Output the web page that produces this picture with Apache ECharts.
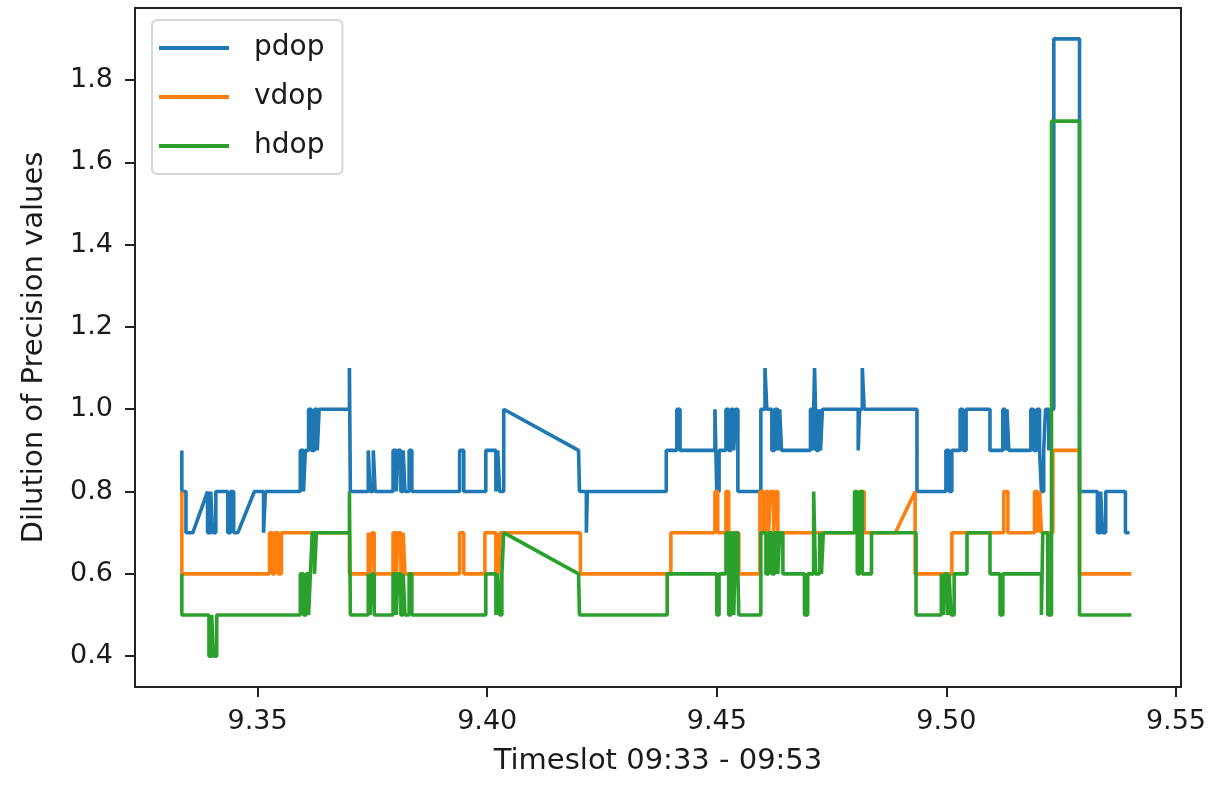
<!DOCTYPE html>
<html>
<head>
<meta charset="utf-8">
<script src="https://cdn.jsdelivr.net/npm/echarts@6/dist/echarts.min.js"></script>
<style>
  html, body { margin: 0; padding: 0; background: #fff; }
  #contain { width: 1209px; height: 786px; }
</style>
</head>
<body>
<div id="contain"></div>
<script>
// dilution of precision (x = timeslot value, y = dop)
const seriesNames = ['pdop', 'vdop', 'hdop'];
const xTicks = [9.35, 9.40, 9.45, 9.50, 9.55];
const yTicks = [0.4, 0.6, 0.8, 1.0, 1.2, 1.4, 1.6, 1.8];

const pdopX = [
  9.3335, 9.3335, 9.3344, 9.3344, 9.3359, 9.3391, 9.3391, 9.3398, 9.3398, 9.3402, 9.3402, 9.3409, 9.3409,
  9.3435, 9.3435, 9.3441, 9.3441, 9.3448, 9.3448, 9.3457, 9.3493, 9.3513, 9.3513, 9.3517, 9.3517,
  9.3593, 9.3593, 9.3600, 9.3600, 9.3604, 9.3604, 9.3611, 9.3611, 9.3617, 9.3617, 9.3624, 9.3624,
  9.3630, 9.3630, 9.3634, 9.3634, 9.3700, 9.3700, 9.3702, 9.3702,
  9.3741, 9.3741, 9.3745, 9.3745, 9.3752, 9.3752, 9.3756, 9.3756,
  9.3795, 9.3795, 9.3802, 9.3802, 9.3806, 9.3806, 9.3812, 9.3812, 9.3817, 9.3817, 9.3821, 9.3821,
  9.3830, 9.3830, 9.3836, 9.3836, 9.3940, 9.3940, 9.3949, 9.3949,
  9.3997, 9.3997, 9.4019, 9.4019, 9.4023, 9.4023, 9.4027, 9.4027, 9.4036, 9.4036,
  9.4199, 9.4201, 9.4201, 9.4216, 9.4216, 9.4218, 9.4218,
  9.4390, 9.4390, 9.4413, 9.4413, 9.4420, 9.4420,
  9.4496, 9.4496, 9.4500, 9.4500, 9.4505, 9.4505,
  9.4520, 9.4520, 9.4526, 9.4526, 9.4531, 9.4531, 9.4537, 9.4537, 9.4541, 9.4541, 9.4546, 9.4546,
  9.4596, 9.4596, 9.4605, 9.4605, 9.4609, 9.4609,
  9.4620, 9.4620, 9.4626, 9.4626, 9.4633, 9.4633, 9.4637, 9.4637, 9.4641, 9.4641,
  9.4704, 9.4704, 9.4709, 9.4709, 9.4713, 9.4713, 9.4717, 9.4717, 9.4722, 9.4722, 9.4726, 9.4726, 9.4730, 9.4730,
  9.4808, 9.4808, 9.4811, 9.4811, 9.4817, 9.4817, 9.4821, 9.4821,
  9.4936, 9.4936, 9.4999, 9.4999, 9.5006, 9.5006, 9.5012, 9.5012,
  9.5030, 9.5030, 9.5036, 9.5036, 9.5043, 9.5043, 9.5095, 9.5095,
  9.5123, 9.5123, 9.5128, 9.5128, 9.5132, 9.5132, 9.5136, 9.5136,
  9.5184, 9.5184, 9.5190, 9.5190, 9.5197, 9.5197, 9.5203, 9.5203, 9.5207, 9.5207, 9.5212, 9.5212,
  9.5216, 9.5216, 9.5223, 9.5223, 9.5227, 9.5227, 9.5234, 9.5234, 9.5290, 9.5290,
  9.5329, 9.5329, 9.5336, 9.5336, 9.5340, 9.5340, 9.5347, 9.5347, 9.5390, 9.5390, 9.5399
];
const pdopY = [
  0.9, 0.8, 0.8, 0.7, 0.7, 0.8, 0.7, 0.7, 0.8, 0.8, 0.7, 0.7, 0.8,
  0.8, 0.7, 0.7, 0.8, 0.8, 0.7, 0.7, 0.8, 0.8, 0.7, 0.7, 0.8,
  0.8, 0.9, 0.9, 0.8, 0.8, 0.9, 0.9, 1.0, 1.0, 0.9, 0.9, 1.0,
  1.0, 0.9, 0.9, 1.0, 1.0, 1.1, 1.1, 0.8,
  0.8, 0.9, 0.9, 0.8, 0.8, 0.9, 0.9, 0.8,
  0.8, 0.9, 0.9, 0.8, 0.8, 0.9, 0.9, 0.8, 0.8, 0.9, 0.9, 0.8,
  0.8, 0.9, 0.9, 0.8, 0.8, 0.9, 0.9, 0.8,
  0.8, 0.9, 0.9, 0.8, 0.8, 0.9, 0.9, 0.8, 0.8, 1.0,
  0.9, 0.9, 0.8, 0.8, 0.7, 0.7, 0.8,
  0.8, 0.9, 0.9, 1.0, 1.0, 0.9,
  0.9, 1.0, 1.0, 0.8, 0.8, 0.9,
  0.9, 1.0, 1.0, 0.9, 0.9, 1.0, 1.0, 0.9, 0.9, 1.0, 1.0, 0.8,
  0.8, 1.0, 1.0, 1.1, 1.1, 1.0,
  1.0, 0.9, 0.9, 1.0, 1.0, 0.9, 0.9, 1.0, 1.0, 0.9,
  0.9, 1.0, 1.0, 0.9, 0.9, 1.1, 1.1, 0.9, 0.9, 1.0, 1.0, 0.9, 0.9, 1.0,
  1.0, 0.9, 0.9, 1.0, 1.0, 1.1, 1.1, 1.0,
  1.0, 0.8, 0.8, 0.9, 0.9, 0.8, 0.8, 0.9,
  0.9, 1.0, 1.0, 0.9, 0.9, 1.0, 1.0, 0.9,
  0.9, 1.0, 1.0, 0.9, 0.9, 1.0, 1.0, 0.9,
  0.9, 1.0, 1.0, 0.9, 0.9, 1.0, 1.0, 0.9, 0.9, 0.8, 0.8, 0.9,
  0.9, 1.0, 1.0, 0.9, 0.9, 1.0, 1.0, 1.9, 1.9, 0.8,
  0.8, 0.7, 0.7, 0.8, 0.8, 0.7, 0.7, 0.8, 0.8, 0.7, 0.7
];

const vdopX = [
  9.3335, 9.3335, 9.3526, 9.3526, 9.3532, 9.3532, 9.3537, 9.3537, 9.3545, 9.3545, 9.3552, 9.3552,
  9.3700, 9.3700, 9.3741, 9.3741, 9.3745, 9.3745, 9.3749, 9.3749, 9.3754, 9.3754,
  9.3795, 9.3795, 9.3802, 9.3802, 9.3806, 9.3806, 9.3812, 9.3812, 9.3817, 9.3817, 9.3821, 9.3821,
  9.3940, 9.3940, 9.3949, 9.3949, 9.3995, 9.3995, 9.4019, 9.4019, 9.4023, 9.4023, 9.4025, 9.4025, 9.4029, 9.4029,
  9.4203, 9.4203, 9.4400, 9.4400, 9.4496, 9.4496, 9.4502, 9.4502, 9.4520, 9.4520, 9.4526, 9.4526, 9.4548, 9.4548,
  9.4594, 9.4594, 9.4602, 9.4602, 9.4607, 9.4607, 9.4613, 9.4613, 9.4617, 9.4617, 9.4624, 9.4624, 9.4628, 9.4628, 9.4633, 9.4633,
  9.4815, 9.4815, 9.4821, 9.4821, 9.4889, 9.4932, 9.4932, 9.5012, 9.5012,
  9.5125, 9.5125, 9.5134, 9.5134, 9.5192, 9.5192, 9.5199, 9.5199, 9.5203, 9.5203, 9.5207, 9.5207,
  9.5232, 9.5232, 9.5290, 9.5290, 9.5403
];
const vdopY = [
  0.8, 0.6, 0.6, 0.7, 0.7, 0.6, 0.6, 0.7, 0.7, 0.6, 0.6, 0.7,
  0.7, 0.6, 0.6, 0.7, 0.7, 0.6, 0.6, 0.7, 0.7, 0.6,
  0.6, 0.7, 0.7, 0.6, 0.6, 0.7, 0.7, 0.6, 0.6, 0.7, 0.7, 0.6,
  0.6, 0.7, 0.7, 0.6, 0.6, 0.7, 0.7, 0.6, 0.6, 0.7, 0.7, 0.6, 0.6, 0.7,
  0.7, 0.6, 0.6, 0.7, 0.7, 0.8, 0.8, 0.7, 0.7, 0.8, 0.8, 0.7, 0.7, 0.6,
  0.6, 0.8, 0.8, 0.7, 0.7, 0.8, 0.8, 0.7, 0.7, 0.8, 0.8, 0.7, 0.7, 0.8, 0.8, 0.7,
  0.7, 0.8, 0.8, 0.7, 0.7, 0.8, 0.6, 0.6, 0.7,
  0.7, 0.8, 0.8, 0.7, 0.7, 0.8, 0.8, 0.7, 0.7, 0.8, 0.8, 0.7,
  0.7, 0.9, 0.9, 0.6, 0.6
];

const hdopX = [
  9.3335, 9.3335, 9.3394, 9.3394, 9.3400, 9.3400, 9.3404, 9.3404, 9.3411, 9.3411,
  9.3593, 9.3593, 9.3600, 9.3600, 9.3606, 9.3606, 9.3611, 9.3611, 9.3615, 9.3615,
  9.3619, 9.3619, 9.3624, 9.3624, 9.3628, 9.3628, 9.3700, 9.3700, 9.3702, 9.3702,
  9.3741, 9.3741, 9.3745, 9.3745, 9.3749, 9.3749, 9.3754, 9.3754,
  9.3795, 9.3795, 9.3802, 9.3802, 9.3806, 9.3806, 9.3812, 9.3812, 9.3817, 9.3817, 9.3821, 9.3821,
  9.3830, 9.3830, 9.3836, 9.3836,
  9.3997, 9.3997, 9.4019, 9.4019, 9.4023, 9.4023, 9.4027, 9.4027, 9.4032, 9.4032, 9.4036, 9.4036,
  9.4199, 9.4201, 9.4201, 9.4392, 9.4392, 9.4500, 9.4500, 9.4505, 9.4505,
  9.4520, 9.4520, 9.4526, 9.4526, 9.4531, 9.4531, 9.4537, 9.4537, 9.4541, 9.4541, 9.4546, 9.4546, 9.4548, 9.4548,
  9.4596, 9.4596, 9.4607, 9.4607, 9.4613, 9.4613, 9.4620, 9.4620, 9.4626, 9.4626, 9.4633, 9.4633, 9.4637, 9.4637, 9.4644, 9.4644,
  9.4691, 9.4691, 9.4698, 9.4698,
  9.4711, 9.4711, 9.4715, 9.4715, 9.4724, 9.4724, 9.4728, 9.4728, 9.4732, 9.4732,
  9.4800, 9.4800, 9.4806, 9.4806, 9.4811, 9.4811, 9.4817, 9.4817, 9.4837, 9.4837,
  9.4934, 9.4934,
  9.4989, 9.4989, 9.4993, 9.4993, 9.4997, 9.4997, 9.5002, 9.5002, 9.5006, 9.5006, 9.5010, 9.5010, 9.5017, 9.5017,
  9.5045, 9.5045, 9.5095, 9.5095, 9.5117, 9.5117, 9.5123, 9.5123,
  9.5207, 9.5207, 9.5210, 9.5210, 9.5221, 9.5221, 9.5229, 9.5229, 9.5290, 9.5290, 9.5403
];
const hdopY = [
  0.6, 0.5, 0.5, 0.4, 0.4, 0.5, 0.5, 0.4, 0.4, 0.5,
  0.5, 0.6, 0.6, 0.5, 0.5, 0.6, 0.6, 0.5, 0.5, 0.6,
  0.6, 0.7, 0.7, 0.6, 0.6, 0.7, 0.7, 0.8, 0.8, 0.5,
  0.5, 0.6, 0.6, 0.5, 0.5, 0.6, 0.6, 0.5,
  0.5, 0.6, 0.6, 0.5, 0.5, 0.6, 0.6, 0.5, 0.5, 0.6, 0.6, 0.5,
  0.5, 0.6, 0.6, 0.5,
  0.5, 0.6, 0.6, 0.5, 0.5, 0.6, 0.6, 0.5, 0.5, 0.6, 0.6, 0.7,
  0.6, 0.6, 0.5, 0.5, 0.6, 0.6, 0.5, 0.5, 0.6,
  0.6, 0.7, 0.7, 0.5, 0.5, 0.7, 0.7, 0.5, 0.5, 0.7, 0.7, 0.6, 0.6, 0.5,
  0.5, 0.7, 0.7, 0.6, 0.6, 0.7, 0.7, 0.6, 0.6, 0.7, 0.7, 0.6, 0.6, 0.7, 0.7, 0.6,
  0.6, 0.5, 0.5, 0.6,
  0.6, 0.8, 0.8, 0.6, 0.6, 0.7, 0.7, 0.6, 0.6, 0.7,
  0.7, 0.8, 0.8, 0.6, 0.6, 0.8, 0.8, 0.6, 0.6, 0.7,
  0.7, 0.5,
  0.5, 0.6, 0.6, 0.5, 0.5, 0.6, 0.6, 0.5, 0.5, 0.6, 0.6, 0.5, 0.5, 0.6,
  0.6, 0.7, 0.7, 0.6, 0.6, 0.5, 0.5, 0.6,
  0.6, 0.5, 0.5, 0.7, 0.7, 0.5, 0.5, 1.7, 1.7, 0.5, 0.5
];

const colors = ['#1f77b4', '#ff7f0e', '#2ca02c'];
const pair = (xs, ys) => xs.map((x, i) => [x, ys[i]]);
const seriesData = [pair(pdopX, pdopY), pair(vdopX, vdopY), pair(hdopX, hdopY)];

const font = 'DejaVu Sans';
const ink = '#1a1a1a';

const chart = echarts.init(document.getElementById('contain'), null, { renderer: 'canvas' });

const option = {
  animation: false,
  backgroundColor: '#ffffff',
  color: colors,
  grid: {
    left: 135, right: 24, top: 8, bottom: 99,
    show: true, borderColor: '#222', borderWidth: 2, backgroundColor: 'transparent'
  },
  legend: {
    data: seriesNames,
    orient: 'vertical',
    left: 152, top: 20,
    icon: 'rect',
    itemWidth: 70, itemHeight: 4,
    itemGap: 21,
    padding: [14, 18, 14, 7],
    backgroundColor: '#fff',
    borderColor: '#d6d6d6', borderWidth: 2, borderRadius: 5,
    textStyle: { fontFamily: font, fontSize: 28, color: ink, padding: [0, 0, 0, 20] }
  },
  xAxis: {
    type: 'value',
    min: 9.3233, max: 9.5511,
    name: 'Timeslot 09:33 - 09:53',
    nameLocation: 'middle', nameGap: 60,
    nameTextStyle: { fontFamily: font, fontSize: 29, color: ink },
    axisLine: { show: true, lineStyle: { color: '#222', width: 2 } },
    axisTick: { show: true, length: 10, customValues: xTicks, lineStyle: { color: '#222', width: 2 } },
    axisLabel: {
      customValues: xTicks, margin: 21,
      fontFamily: font, fontSize: 27, color: ink,
      formatter: v => v.toFixed(2)
    },
    splitLine: { show: false }
  },
  yAxis: {
    type: 'value',
    min: 0.325, max: 1.975,
    name: 'Dilution of Precision values',
    nameLocation: 'middle', nameGap: 86,
    nameTextStyle: { fontFamily: font, fontSize: 29, color: ink },
    axisLine: { show: true, lineStyle: { color: '#222', width: 2 } },
    axisTick: { show: true, length: 10, customValues: yTicks, lineStyle: { color: '#222', width: 2 } },
    axisLabel: {
      customValues: yTicks, margin: 22,
      fontFamily: font, fontSize: 27, color: ink,
      formatter: v => v.toFixed(1)
    },
    splitLine: { show: false }
  },
  series: seriesNames.map((name, i) => ({
    name: name,
    type: 'line',
    data: seriesData[i],
    showSymbol: false,
    symbol: 'none',
    lineStyle: { color: colors[i], width: 3.6 },
    itemStyle: { color: colors[i] },
    emphasis: { disabled: true }
  }))
};

chart.setOption(option);
</script>
</body>
</html>
